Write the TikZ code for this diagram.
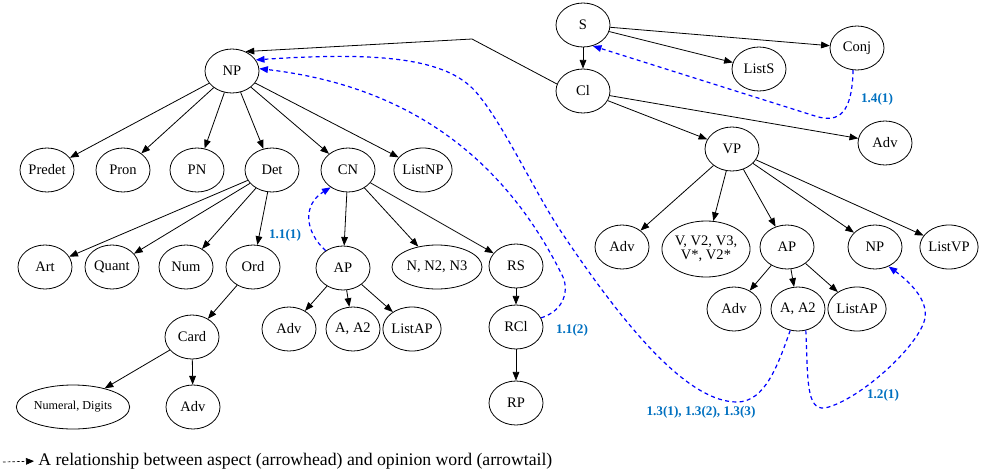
\documentclass[tikz,border=0pt]{standalone}
\usepackage{fontspec}
\setmainfont{Liberation Serif}
\usetikzlibrary{shapes.geometric,arrows.meta}
\definecolor{lblue}{RGB}{0,112,192}
\tikzset{
  tok/.style={ellipse, draw, line width=0.6pt, minimum width=40.5pt, minimum height=33pt, inner sep=0pt, font=\fontsize{10.9}{10.5}\selectfont},
  dep/.style={-{Triangle[length=6.5pt,width=5pt]}, line width=0.6pt},
  rel/.style={-{Triangle[length=6.5pt,width=5pt]}, blue, dash pattern=on 3pt off 2.5pt, line width=0.9pt},
  lbl/.style={text=lblue, font=\fontsize{9.9}{12}\selectfont\bfseries},
}
\begin{document}
\begin{tikzpicture}[x=0.75pt,y=-0.75pt]
    \useasboundingbox (0,0) rectangle (982,475);
    %sentence side
    \node[tok] (S) at (583,25) {S};
    \node[tok] (Cl) at (583,91) {Cl};
    \node[tok] (ListS) at (759,69) {ListS};
    \node[tok] (Conj) at (857,48) {Conj};
    \node[tok] (AdvCl) at (885,143) {Adv};
    \node[tok] (VP) at (732,149) {VP};
    \node[tok] (AdvV) at (622,247) {Adv};
    \node[tok, align=center, minimum width=61pt, minimum height=42pt] (V) at (706,249) {V, V2, V3,\\V*, V2*};
    \node[tok] (APv) at (787,247) {AP};
    \node[tok] (NPv) at (875,247) {NP};
    \node[tok] (ListVP) at (949,247) {ListVP};
    \node[tok] (AdvAv) at (734,309) {Adv};
    \node[tok] (AAv) at (798,309) {A, A2};
    \node[tok] (ListAPv) at (857,309) {ListAP};
    %noun phrase side
    \node[tok] (NP) at (232,71) {NP};
    \node[tok] (Predet) at (47,170) {Predet};
    \node[tok] (Pron) at (123,170) {Pron};
    \node[tok] (PN) at (197,170) {PN};
    \node[tok] (Det) at (272,170) {Det};
    \node[tok] (CN) at (348,170) {CN};
    \node[tok] (ListNP) at (423,170) {ListNP};
    \node[tok] (Art) at (45,267) {Art};
    \node[tok] (Quant) at (112,267) {Quant};
    \node[tok] (Num) at (186,267) {Num};
    \node[tok] (Ord) at (253,267) {Ord};
    \node[tok] (APn) at (343,268) {AP};
    \node[tok, minimum width=67.5pt] (NN) at (437,267) {N, N2, N3};
    \node[tok] (RS) at (516,266) {RS};
    \node[tok] (Card) at (192,337) {Card};
    \node[tok] (AdvAn) at (289,329) {Adv};
    \node[tok] (AAn) at (353,329) {A, A2};
    \node[tok] (ListAPn) at (412,329) {ListAP};
    \node[tok] (RCl) at (516,327) {RCl};
    \node[tok, minimum width=85pt, font=\fontsize{9.1}{10}\selectfont] (Numeral) at (73,407) {Numeral, Digits};
    \node[tok] (AdvC) at (193,407) {Adv};
    \node[tok] (RP) at (516,403) {RP};
    %tree edges
    \coordinate (bend) at (472,39);
    \draw[line width=0.6pt] (Cl.165) -- (bend);
    \draw[dep] (bend) -- (NP.55);
    \foreach \a/\b in {S/Cl, S/ListS, S/Conj, Cl/VP, Cl/AdvCl, VP/AdvV, VP/V, VP/APv, VP/NPv, VP/ListVP,
        APv/AdvAv, APv/AAv, APv/ListAPv, NP/Predet, NP/Pron, NP/PN, NP/Det, NP/CN, NP/ListNP,
        Det/Art, Det/Quant, Det/Num, Det/Ord, Ord/Card, Card/Numeral, Card/AdvC,
        CN/APn, CN/NN, CN/RS, APn/AdvAn, APn/AAn, APn/ListAPn, RS/RCl, RCl/RP}
        \draw[dep] (\a) -- (\b);
    %aspect - opinion links
    \draw[rel] (APn.135) .. controls (305,232) and (302,205) .. (CN.-135);
    \draw[rel] (RCl.20) .. controls (566,310) and (569,288) .. (562,275) .. controls (500,150) and (400,85) .. (NP.5);
    \draw[rel] (AAv.-110) .. controls (778,365) and (765,402) .. (737,402) .. controls (690,402) and (630,335) .. (560,230)
        .. controls (535,192) and (505,128) .. (480,97) .. controls (455,63) and (400,50) .. (NP.25);
    \draw[rel] (AAv.-70) .. controls (808,380) and (806,410) .. (825,408) .. controls (860,400) and (920,345) .. (925,318)
        .. controls (928,300) and (910,282) .. (NPv.-55);
    \draw[rel] (Conj.-100) .. controls (852,112) and (840,124) .. (815,116) -- (S.-65);
    \node[lbl] (l11a) at (285,235) {1.1(1)};
    \node[lbl] (l11b) at (572,330) {1.1(2)};
    \node[lbl] (l13) at (701,412) {1.3(1), 1.3(2), 1.3(3)};
    \node[lbl] (l12) at (883,395) {1.2(1)};
    \node[lbl] (l14) at (877,99) {1.4(1)};
    %legend
    \coordinate (la) at (3,462);
    \node[anchor=west, inner sep=0pt, font=\fontsize{13.3}{15}\selectfont] (legend) at (38,461) {A relationship between aspect (arrowhead) and opinion word (arrowtail)};
    \draw[-{Triangle[length=6pt,width=5pt]}, dash pattern=on 2pt off 1.5pt, line width=0.5pt, shorten >=3pt] (la) -- (legend.west);
\end{tikzpicture}
\end{document}
